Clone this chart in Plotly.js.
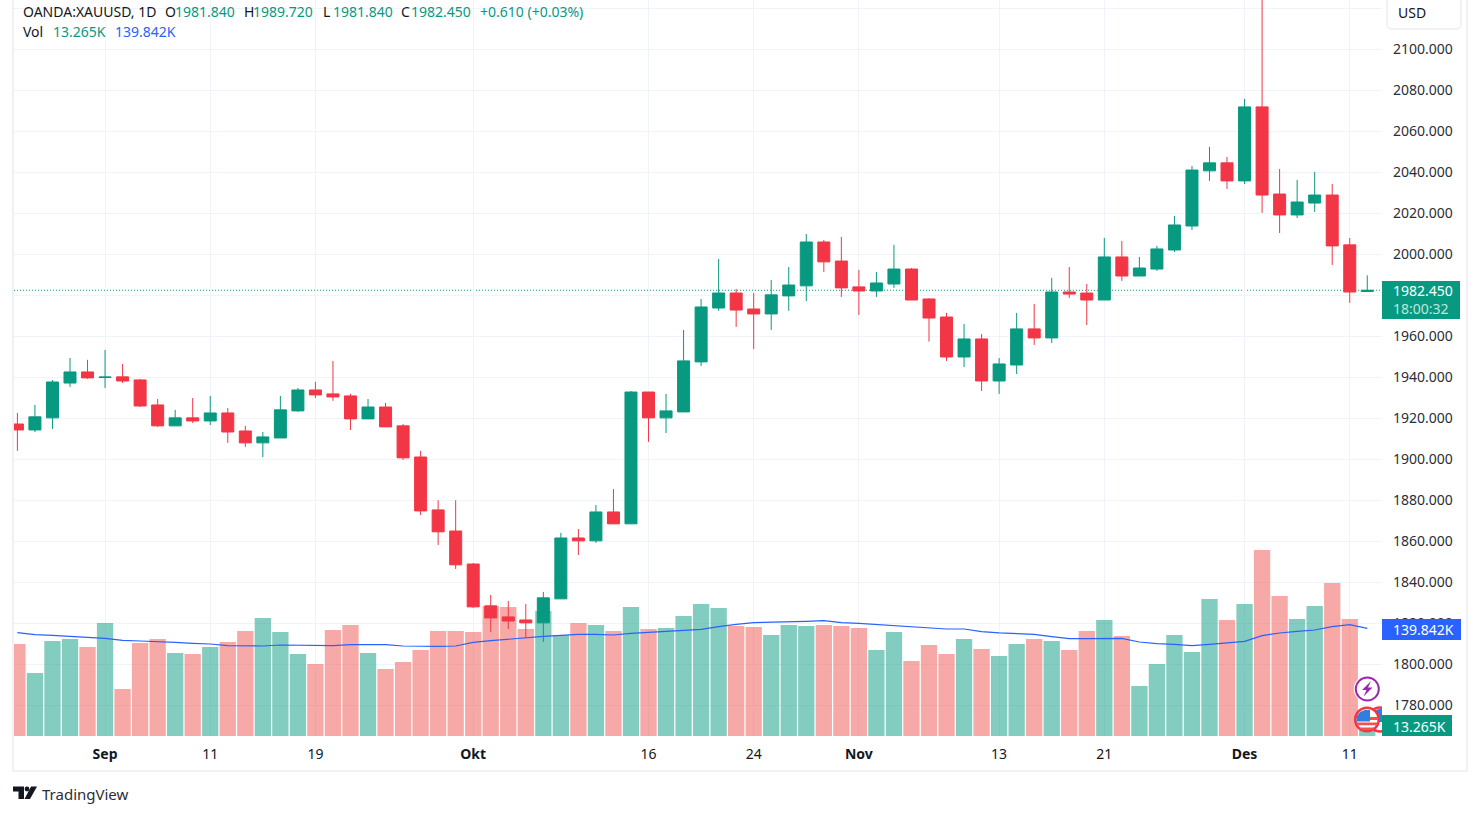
<!DOCTYPE html>
<html>
<head>
<meta charset="utf-8">
<script src="https://cdn.plot.ly/plotly-3.0.1.min.js"></script>
<style>
  html, body { margin: 0; padding: 0; background: #fff; overflow: hidden; }
</style>
</head>
<body>
<div id="chart" style="width:1480px;height:815px"></div>
<script>
// daily candles, one entry per trading day
const open = [1917.2,1914.3,1920.2,1937.2,1942.6,1939.9,1940.2,1938.7,1926.5,1916.3,
  1920.2,1918.7,1922.6,1913.8,1908.0,1910.4,1923.6,1933.8,1931.9,1930.9,
  1919.7,1925.5,1916.3,1901.1,1875.3,1865.0,1848.9,1828.5,1823.1,1821.6,
  1820.2,1831.9,1861.6,1860.2,1874.3,1868.5,1932.8,1920.2,1923.1,1947.5,
  1973.8,1981.1,1973.3,1970.9,1979.7,1984.6,2006.0,1996.7,1984.1,1982.1,
  1985.5,1992.8,1978.2,1969.4,1949.9,1958.7,1938.2,1946.0,1963.6,1959.2,
  1981.6,1981.1,1977.7,1998.7,1989.4,1992.8,2002.1,2013.8,2040.7,2044.6,
  2035.8,2071.9,2029.4,2019.2,2025.0,2028.9,2004.6,1981.84];
const high = [1922.6,1926.5,1938.7,1949.4,1948.5,1953.3,1946.5,1939.2,1929.4,1924.1,
  1929.9,1930.9,1925.0,1916.3,1913.3,1930.9,1934.8,1937.7,1948.0,1931.9,
  1929.4,1927.5,1917.2,1904.1,1880.0,1880.0,1849.4,1833.8,1830.9,1829.4,
  1835.3,1864.1,1866.0,1877.7,1885.5,1933.3,1932.8,1931.9,1963.1,1978.2,
  1997.7,1983.1,1981.1,1987.5,1993.8,2009.9,2007.0,2008.5,1992.4,1991.4,
  2004.6,1993.3,1978.5,1971.4,1966.0,1961.1,1949.4,1971.4,1975.8,1988.5,
  1993.8,1985.5,2008.0,2006.5,1998.7,2004.1,2018.7,2043.1,2052.4,2047.5,
  2075.8,2135.0,2041.6,2036.3,2040.2,2034.3,2008.0,1989.72];
const low = [1904.1,1913.3,1914.8,1935.3,1939.2,1934.8,1937.2,1925.5,1915.8,1916.3,
  1917.7,1916.7,1908.0,1906.0,1901.1,1910.4,1923.1,1929.9,1928.5,1914.3,
  1919.7,1915.8,1899.7,1872.8,1858.2,1846.5,1827.5,1815.8,1817.2,1813.2,
  1810.9,1831.9,1853.3,1859.2,1868.5,1868.5,1908.5,1912.8,1923.1,1945.5,
  1972.4,1964.6,1953.8,1963.1,1972.4,1977.2,1991.4,1979.2,1970.4,1979.2,
  1983.6,1977.7,1957.4,1948.0,1945.0,1933.3,1931.9,1941.6,1955.8,1956.7,
  1978.7,1965.5,1977.7,1987.0,1989.4,1991.9,2001.1,2011.9,2035.8,2031.9,
  2034.3,2020.2,2010.4,2017.7,2020.7,1994.8,1976.3,1981.84];
const close = [1914.3,1920.7,1937.7,1942.6,1939.7,1940.1,1938.2,1926.0,1916.3,1920.2,
  1918.7,1922.6,1913.3,1908.0,1910.9,1924.1,1933.8,1931.4,1930.4,1919.7,
  1925.5,1915.8,1900.7,1874.8,1864.6,1848.5,1828.0,1822.6,1821.1,1820.2,
  1832.4,1861.6,1860.2,1874.3,1868.5,1932.8,1920.2,1923.6,1948.0,1974.3,
  1981.1,1972.8,1970.9,1980.2,1985.0,2006.0,1996.3,1983.6,1982.1,1986.0,
  1992.8,1977.7,1968.9,1949.9,1958.7,1938.2,1946.5,1963.6,1959.2,1981.6,
  1980.6,1977.7,1998.7,1989.4,1993.3,2002.6,2014.3,2041.1,2044.6,2035.8,
  2071.9,2028.9,2019.2,2025.5,2028.9,2004.1,1981.6,1982.45];
// volume and its moving average, in thousands
const volume = [119.6,81.9,123.5,126.0,115.7,146.9,61.1,120.9,126.0,107.9,
  106.6,115.7,122.2,136.5,153.4,135.2,106.6,93.6,137.8,144.3,
  107.9,87.1,96.2,111.8,136.5,136.5,135.2,169.0,167.7,139.1,
  162.5,131.3,146.9,144.3,136.5,167.7,139.1,140.4,156.0,171.6,
  166.4,143.0,141.7,131.3,144.3,143.0,144.3,143.0,140.4,111.8,
  135.2,97.5,118.3,106.6,126.1,113.1,104.0,119.6,126.1,123.5,
  111.8,136.5,150.8,130.0,65.0,93.6,131.3,109.2,178.1,150.8,
  171.6,241.8,182.0,152.1,169.0,198.9,152.1,13.265];
const volumeMA = [134.3,131.7,130.9,130.0,128.3,127.0,124.4,123.5,123.1,121.8,
  120.5,119.6,117.4,117.0,117.0,118.3,118.3,117.4,117.4,118.7,
  118.7,118.7,117.0,116.6,116.6,117.0,121.8,123.9,126.1,127.8,
  129.6,130.9,132.2,132.2,131.3,133.5,134.8,136.9,137.8,138.7,
  142.1,145.2,147.3,148.2,148.6,149.1,149.9,147.3,146.5,145.2,
  143.9,142.1,140.8,139.1,139.1,135.6,134.1,133.5,132.2,129.1,
  126.5,126.5,126.5,127.0,122.2,120.0,119.2,117.4,119.2,121.3,
  123.0,130.4,133.9,136.1,137.8,142.1,144.7,139.842];

const dayTicks = [5, 11, 17, 26, 36, 42, 48, 56, 62, 70, 76];
const dayLabels = ["<b>Sep</b>", "11", "19", "<b>Okt</b>", "16", "24", "<b>Nov</b>", "13", "21", "<b>Des</b>", "11"];
const priceTicks = [1780,1800,1820,1840,1860,1880,1900,1920,1940,1960,1980,2000,2020,2040,2060,2080,2100,2120];
// 1980 sits under the price tag and 2120 under the USD button, their grid lines stay
const priceLabels = ["1780.000","1800.000","1820.000","1840.000","1860.000","1880.000","1900.000","1920.000","1940.000",
  "1960.000","","2000.000","2020.000","2040.000","2060.000","2080.000","2100.000",""];

const UP = "#089981", DOWN = "#f23645", BLUE = "#2962ff", INK = "#131722", GRID = "#f0f3fa";
const FONT = "'Noto Sans', sans-serif";

const days = close.map((c, i) => i);
const barColors = close.map((c, i) => c >= open[i] ? "rgba(8,153,129,0.5)" : "rgba(239,83,80,0.5)");

// plot area in page pixels, everything outside it is placed through these two
const plotL = 14, plotR = 1382, plotB = 736;
const px = x => (x - plotL) / (plotR - plotL);
const py = y => 1 - y / plotB;

const traces = [
  { type: "bar", x: days, y: volume, xaxis: "x", yaxis: "y", marker: { color: barColors, line: { width: 0 } }, hoverinfo: "skip" },
  { type: "scatter", mode: "lines", x: days, y: volumeMA, xaxis: "x", yaxis: "y", line: { color: BLUE, width: 1.2 }, hoverinfo: "skip" },
  { type: "candlestick", x: days, open: open, high: high, low: low, close: close, xaxis: "x", yaxis: "y2",
    increasing: { line: { color: UP, width: 1 }, fillcolor: UP },
    decreasing: { line: { color: DOWN, width: 1 }, fillcolor: DOWN },
    whiskerwidth: 0, hoverinfo: "skip" }
];

function rect(x0, y0, x1, y1, fill) {
  return { type: "rect", xref: "paper", yref: "paper", layer: "above", x0: px(x0), x1: px(x1), y0: py(y0), y1: py(y1),
    fillcolor: fill, line: { width: 0 } };
}
function ring(cx, cy, r, fill, stroke, w) {
  return { type: "circle", xref: "paper", yref: "paper", layer: "above", x0: px(cx - r), x1: px(cx + r), y0: py(cy + r), y1: py(cy - r),
    fillcolor: fill, line: { color: stroke, width: w } };
}
function poly(points, fill) {
  const d = points.map((p, i) => (i ? "L" : "M") + px(p[0]) + "," + py(p[1])).join(" ") + " Z";
  return { type: "path", xref: "paper", yref: "paper", layer: "above", path: d, fillcolor: fill, line: { width: 0 } };
}
// annotations carry about 2px of padding, taken off here
function label(x, y, text, color, size) {
  return { xref: "paper", yref: "paper", x: px(x - 2), y: py(y), text: text, showarrow: false, xanchor: "left", yanchor: "middle", align: "left",
    font: { family: FONT, size: size || 14, color: color || INK } };
}

const flagRed = "#ef5350";
const shapes = [
  // last price line
  { type: "line", xref: "paper", yref: "y2", x0: 0, x1: 1, y0: close[77], y1: close[77], layer: "below",
    line: { color: UP, width: 1, dash: "1px,2px" } },
  // frame round the widget
  rect(12, 0, 14, 772, "#f0f0f5"), rect(12, 770, 1468, 772, "#f0f0f5"), rect(1466, 0, 1468, 772, "#f0f0f5"),
  // currency button
  { type: "path", xref: "paper", yref: "paper", layer: "above", fillcolor: "#ffffff", line: { color: "#eceef4", width: 1.5 },
    path: "M" + px(1387) + "," + py(-2) + " L" + px(1387) + "," + py(24) + " Q" + px(1387) + "," + py(29) + " " + px(1392) + "," + py(29) +
      " L" + px(1456) + "," + py(29) + " Q" + px(1461) + "," + py(29) + " " + px(1461) + "," + py(24) + " L" + px(1461) + "," + py(-2) },
  // second flag marker, cut off by the axis
  ring(1380, 719.5, 12, "#ffffff", "#f23645", 2.5),
  poly([[1376, 710], [1382, 708], [1382, 722], [1376, 722]], "#2f7fe0"),
  rect(1382, 700, 1396, 715, "#ffffff"),
  // axis value tags
  rect(1382, 281, 1460, 319, UP), rect(1382, 619, 1461, 640, BLUE), rect(1382, 715, 1452, 736, UP),
  // lightning marker
  ring(1367.3, 689, 13.5, "#ffffff", "#ffffff", 0),
  ring(1367.3, 689, 11.5, "#ffffff", "#9c27b0", 2),
  poly([[1371, 681], [1362, 690], [1366.5, 690], [1363.5, 696.5], [1372.5, 687.5], [1368, 687.5]], "#9c27b0"),
  // flag marker
  ring(1367, 719.5, 11.8, "#ffffff", "#f23645", 2.5),
  poly([[1370, 717], [1377.7, 717], [1378, 720], [1370, 720]], flagRed),
  poly([[1356.2, 722.5], [1377.8, 722.5], [1377, 725.3], [1357, 725.3]], flagRed),
  poly([[1359, 727.5], [1375, 727.5], [1372.5, 730], [1361.5, 730]], flagRed),
  poly([[1370, 710], [1365, 710], [1360, 712], [1357, 716], [1356.2, 721.5], [1370, 721.5]], "#2f7fe0"),
  // logo
  poly([[13, 786.5], [24, 786.5], [24, 799], [18.5, 799], [18.5, 791.5], [13, 791.5]], INK),
  ring(27, 789, 2.4, INK, INK, 0),
  poly([[31, 786.5], [37, 786.5], [30, 799], [24.5, 799]], INK)
];

const annotations = [
  label(23, 12, "OANDA:XAUUSD, 1D", INK),
  label(165, 12, "O", INK), label(175, 12, "1981.840", UP),
  label(244, 12, "H", INK), label(253, 12, "1989.720", UP),
  label(323, 12, "L", INK), label(333, 12, "1981.840", UP),
  label(401, 12, "C", INK), label(411, 12, "1982.450", UP),
  label(480, 12, "+0.610 (+0.03%)", UP),
  label(23, 32, "Vol", INK), label(53, 32, "13.265K", UP), label(115, 32, "139.842K", BLUE),
  label(1398, 13, "USD", INK),
  label(1393, 299.5, "1982.450<br><span style='color:#bfe6de'>18:00:32</span>", "#ffffff"),
  label(1393, 629.5, "139.842K", "#ffffff"), label(1393, 726, "13.265K", "#ffffff"),
  label(42, 793.5, "TradingView", "#2a2e39", 15)
];

const layout = {
  width: 1480, height: 815, autosize: false,
  margin: { l: plotL, r: 1480 - plotR, t: 0, b: 815 - plotB, pad: 0 },
  paper_bgcolor: "#ffffff", plot_bgcolor: "#ffffff",
  showlegend: false, bargap: 0.07, boxgap: 0.315, boxgroupgap: 0,
  font: { family: FONT, size: 14, color: INK },
  xaxis: { range: [-0.194, 77.84], tickmode: "array", tickvals: dayTicks, ticktext: dayLabels,
    showgrid: true, gridcolor: GRID, gridwidth: 1, zeroline: false, showline: false, ticks: "", ticklabelstandoff: 8,
    rangeslider: { visible: false }, tickfont: { family: FONT, size: 14, color: INK } },
  yaxis: { range: [0, 956.8], visible: false, showgrid: false, zeroline: false, fixedrange: true },
  yaxis2: { range: [1765, 2124.05], overlaying: "y", side: "right", tickmode: "array", tickvals: priceTicks, ticktext: priceLabels,
    showgrid: true, gridcolor: GRID, gridwidth: 1, zeroline: false, showline: false, ticks: "",
    ticklabelstandoff: 10, tickfont: { family: FONT, size: 14, color: "#2a2e39" } },
  shapes: shapes,
  annotations: annotations
};

Plotly.newPlot("chart", traces, layout, { displayModeBar: false, staticPlot: true });
</script>
</body>
</html>
